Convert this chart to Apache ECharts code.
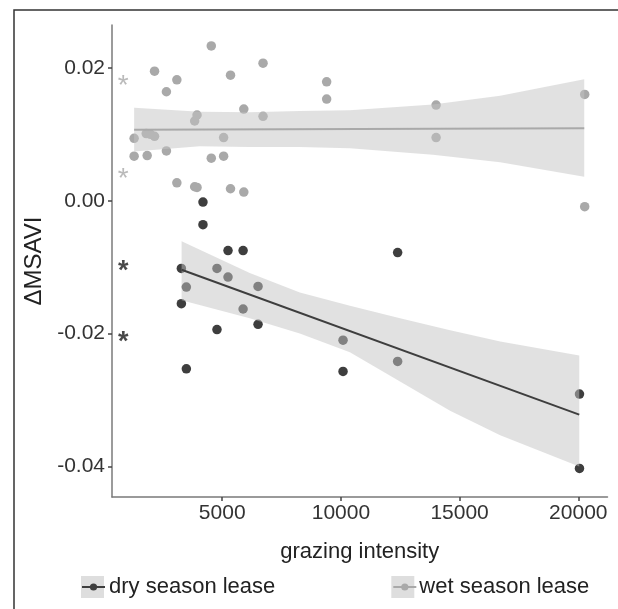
<!DOCTYPE html>
<html>
<head>
<meta charset="utf-8">
<script src="https://cdn.jsdelivr.net/npm/echarts@6/dist/echarts.min.js"></script>
<style>html,body{margin:0;padding:0;background:#fff;}#chart{width:618px;height:609px;}</style>
</head>
<body>
<div id="chart"></div>
<script>
// ---- data ----
const seriesNames = ['dry season lease', 'wet season lease'];
const xTicks = [5000, 10000, 15000, 20000];
const yTicks = [-0.04, -0.02, 0, 0.02];

const dryX = [4190, 4190, 5245, 5880, 3280, 4780, 5245, 3490, 3280, 6510, 5880, 6510, 4780, 3490, 10090, 10090, 12390, 12390, 20050, 20050];
const dryY = [-0.0002, -0.0036, -0.0075, -0.0075, -0.0102, -0.0102, -0.0115, -0.0130, -0.0155, -0.0129, -0.0163, -0.0186, -0.0194, -0.0253, -0.0210, -0.0257, -0.0078, -0.0242, -0.0291, -0.0403];

const wetX = [4540, 6720, 2150, 3090, 5350, 2650, 9400, 9400, 5910, 3940, 3840, 6720, 1290, 1800, 1980, 2150, 5060, 1290, 1840, 2650, 4540, 5060, 3090, 3840, 3940, 5350, 5910, 14010, 14010, 20270, 20270];
const wetY = [0.0233, 0.0207, 0.0195, 0.0182, 0.0189, 0.0164, 0.0179, 0.0153, 0.0138, 0.0129, 0.0120, 0.0127, 0.0094, 0.0101, 0.0100, 0.0097, 0.0095, 0.0067, 0.0068, 0.0075, 0.0064, 0.0067, 0.0027, 0.0021, 0.0020, 0.0018, 0.0013, 0.0144, 0.0095, 0.0160, -0.0009];

const dryBandX = [3290, 6160, 8270, 10380, 12490, 14600, 16710, 20040];
const dryBandTop = [-0.0061, -0.0109, -0.0138, -0.0158, -0.0177, -0.0195, -0.0212, -0.0233];
const dryBandBottom = [-0.0150, -0.0177, -0.0200, -0.0228, -0.0272, -0.0316, -0.0353, -0.0400];
const dryFitX = [3290, 20040];
const dryFitY = [-0.0104, -0.0322];

const wetBandX = [1290, 4050, 6160, 8270, 10380, 13880, 16710, 20250];
const wetBandTop = [0.0140, 0.0134, 0.0133, 0.0135, 0.0136, 0.0145, 0.0158, 0.0183];
const wetBandBottom = [0.0074, 0.0082, 0.0081, 0.0081, 0.0079, 0.0069, 0.0058, 0.0036];
const wetFitX = [1290, 20250];
const wetFitY = [0.0107, 0.0109];

const starX = [830, 830, 830, 830];
const starY = [0.0182, 0.0041, -0.0097, -0.0204];
const starGroup = ['wet', 'wet', 'dry', 'dry'];

// ---- styling ----
const FONT = '"Liberation Sans", Arial, Helvetica, sans-serif';
const DRY = '#3e3e3e';
const WET = '#a9a9a9';
const BAND = 'rgba(195,195,195,0.5)';

const zip = (a, b) => a.map((v, i) => [v, b[i]]);

function bandSeries(name, xs, tops, bottoms) {
  return {
    name: name, type: 'custom', z: 4, silent: true, clip: true,
    data: xs.map((x, i) => [x, tops[i], bottoms[i]]),
    encode: {x: 0, y: [1, 2]},
    renderItem: function (params, api) {
      if (params.dataIndex !== 0) return null;
      const pts = [];
      for (let i = 0; i < xs.length; i++) pts.push(api.coord([xs[i], tops[i]]));
      for (let i = xs.length - 1; i >= 0; i--) pts.push(api.coord([xs[i], bottoms[i]]));
      return {type: 'polygon', shape: {points: pts}, style: {fill: BAND, stroke: null}};
    }
  };
}

const chart = echarts.init(document.getElementById('chart'), null, {renderer: 'canvas'});
chart.setOption({
  animation: false,
  backgroundColor: '#fff',
  textStyle: {fontFamily: FONT},
  grid: {left: 112, right: 10.5, top: 25, bottom: 112, containLabel: false},
  xAxis: {
    type: 'value', min: 358, max: 21230,
    name: 'grazing intensity', nameLocation: 'middle', nameGap: 44,
    nameTextStyle: {fontSize: 22, color: '#222', fontFamily: FONT},
    axisLine: {show: true, onZero: false, lineStyle: {color: '#7a7a7a', width: 1.5}},
    axisTick: {show: true, length: 4, customValues: xTicks, lineStyle: {color: '#444', width: 1.5}},
    axisLabel: {customValues: xTicks, fontSize: 21, color: '#333', margin: 6, fontFamily: FONT,
      formatter: v => String(Math.round(v))},
    splitLine: {show: false}
  },
  yAxis: {
    type: 'value', min: -0.0446, max: 0.02645,
    name: '\u0394MSAVI', nameLocation: 'middle', nameGap: 66, nameRotate: 90,
    nameTextStyle: {fontSize: 24, color: '#222', fontFamily: FONT},
    axisLine: {show: true, onZero: false, lineStyle: {color: '#7a7a7a', width: 1.5}},
    axisTick: {show: true, length: 4, customValues: yTicks, lineStyle: {color: '#444', width: 1.5}},
    axisLabel: {customValues: yTicks, fontSize: 21, color: '#333', margin: 7, fontFamily: FONT,
      formatter: v => Number(v).toFixed(2)},
    splitLine: {show: false}
  },
  legend: [
    {
      data: seriesNames, left: 76, top: 571, orient: 'horizontal',
      itemWidth: 23, itemHeight: 22, itemGap: 116, icon: 'rect', selectedMode: false,
      itemStyle: {color: '#dedede', borderWidth: 0},
      textStyle: {fontSize: 22, color: '#222', fontFamily: FONT}
    },
    {
      data: seriesNames, left: 76, top: 571, orient: 'horizontal',
      itemWidth: 23, itemHeight: 9, itemGap: 116, selectedMode: false,
      textStyle: {fontSize: 22, color: 'rgba(0,0,0,0)', fontFamily: FONT}
    }
  ],
  graphic: [{
    type: 'rect', silent: true, z: 100,
    shape: {x: 14, y: 10, width: 700, height: 700},
    style: {fill: 'none', stroke: '#333', lineWidth: 1.5}
  }],
  series: [
    {
      name: seriesNames[0], type: 'line', data: zip(dryFitX, dryFitY), z: 6,
      symbol: 'circle', symbolSize: 7, showSymbol: false,
      itemStyle: {color: DRY}, lineStyle: {color: DRY, width: 2}, silent: true
    },
    {
      name: seriesNames[1], type: 'line', data: zip(wetFitX, wetFitY), z: 6,
      symbol: 'circle', symbolSize: 7, showSymbol: false,
      itemStyle: {color: WET}, lineStyle: {color: WET, width: 2}, silent: true
    },
    {
      name: 'dry points', type: 'scatter', data: zip(dryX, dryY), z: 2,
      symbolSize: 9.5, itemStyle: {color: DRY, opacity: 1}
    },
    {
      name: 'wet points', type: 'scatter', data: zip(wetX, wetY), z: 2,
      symbolSize: 9.5, itemStyle: {color: WET, opacity: 1}
    },
    bandSeries('dry band', dryBandX, dryBandTop, dryBandBottom),
    bandSeries('wet band', wetBandX, wetBandTop, wetBandBottom),
    {
      name: 'significance', type: 'scatter', z: 7, silent: true,
      symbolSize: 1, itemStyle: {color: 'rgba(0,0,0,0)'},
      data: starX.map((x, i) => ({
        value: [x, starY[i]],
        label: {
          show: true, formatter: '*', position: 'inside', offset: [0, 6],
          fontSize: starGroup[i] === 'dry' ? 27 : 28, fontWeight: starGroup[i] === 'dry' ? 'bold' : 'normal',
          color: starGroup[i] === 'dry' ? '#1a1a1a' : '#a9a9a9', fontFamily: FONT
        }
      }))
    }
  ]
});
</script>
</body>
</html>
